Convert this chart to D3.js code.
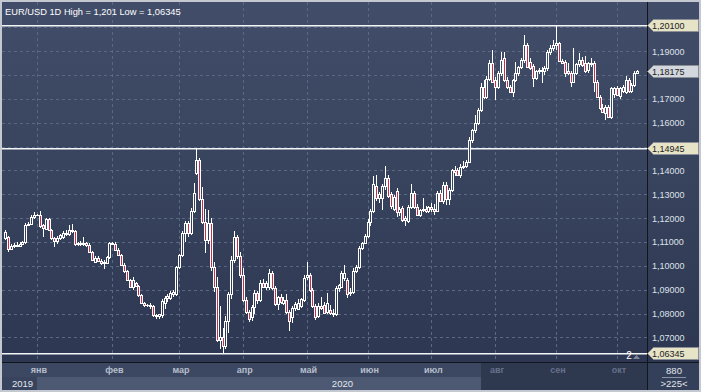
<!DOCTYPE html>
<html>
<head>
<meta charset="utf-8">
<script src="https://cdn.jsdelivr.net/npm/d3@7"></script>
<style>
html, body { margin: 0; padding: 0; background: #c4c8d0; }
svg { display: block; font-family: "Liberation Sans", Arial, sans-serif; }
</style>
</head>
<body>
<div id="chart"></div>
<script>
// EUR/USD daily candles (one value per bar)
var opens = [
  1.1118,1.1120,1.1072,1.1083,1.1088,1.1082,1.1092,1.1098,1.1172,1.1176,1.1205,1.1212,
  1.1214,1.1170,1.1156,1.1196,1.1150,1.1115,1.1106,1.1116,1.1120,1.1138,1.1132,1.1152,1.1146,1.1090,1.1096,1.1090,1.1096,1.1088,1.1058,1.1018,1.1034,1.1022,1.1012,1.1014,1.1035,
  1.1094,1.1092,1.1068,1.1045,1.1005,1.0978,1.0940,1.0910,1.0926,1.0916,1.0876,1.0846,1.0834,1.0836,1.0830,1.0792,1.0788,1.0792,1.0845,1.0866,1.0866,1.0884,1.0884,
  1.0994,1.1044,1.1136,1.1180,1.1136,1.1228,1.1390,1.1444,1.1280,1.1182,1.1108,1.1180,1.0996,1.0910,1.0690,1.0700,1.0665,1.0770,1.0880,1.1025,1.1122,1.1040,
  1.0960,1.0858,1.0808,1.0786,1.0828,1.0887,1.0857,1.0930,1.0912,1.0910,1.0972,1.0908,1.0840,1.0868,1.0846,1.0858,1.0808,1.0785,1.0822,1.0820,1.0830,1.0858,
  1.0955,1.0962,1.0900,1.0830,1.0790,1.0830,1.0836,1.0808,1.0816,1.0803,1.0800,1.0905,1.0912,1.0950,1.0940,1.0885,1.0890,1.0980,1.0995,1.1075,1.1095,
  1.1125,1.1185,1.1230,1.1335,1.1285,1.1285,1.1335,1.1367,1.1300,1.1240,1.1315,1.1225,1.1242,1.1193,1.1187,1.1248,1.1305,1.1248,1.1215,1.1235,1.1240,1.1228,
  1.1245,1.1240,1.1232,1.1305,1.1272,1.1340,1.1280,1.1318,1.1400,1.1402,1.1382,1.1415,1.1420,1.1437,1.1528,1.1570,1.1598,1.1654,1.1752,1.1710,1.1785,1.1850,
  1.1780,1.1752,1.1808,1.1870,1.1780,1.1752,1.1731,1.1780,1.1808,1.1835,1.1863,1.1926,1.1856,1.1836,1.1787,1.1815,1.1822,1.1818,1.1828,1.1898,1.1915,
  1.1925,1.1935,1.1858,1.1855,1.1815,1.1808,1.1772,1.1808,1.1845,1.1862,1.1850,1.1822,1.1845,1.1850,1.1773,1.1710,1.1661,1.1640,1.1668,1.1625,1.1720,
  1.1745,1.1712,1.1735,1.1730,1.1780,1.1732,1.1758,1.1810
];
var highs = [
  1.1150,1.1125,1.1090,1.1095,1.1098,1.1100,1.1104,1.1180,1.1185,1.1215,1.1225,1.1218,
  1.1228,1.1176,1.1202,1.1200,1.1155,1.1120,1.1125,1.1135,1.1145,1.1150,1.1173,1.1176,1.1150,1.1102,1.1105,1.1120,1.1100,1.1096,1.1062,1.1040,1.1040,1.1030,1.1026,1.1042,1.1098,
  1.1100,1.1100,1.1075,1.1050,1.1010,1.0982,1.0946,1.0955,1.0934,1.0920,1.0880,1.0850,1.0840,1.0845,1.0835,1.0800,1.0800,1.0860,1.0872,1.0880,1.0896,1.0900,1.0998,
  1.1048,1.1145,1.1190,1.1186,1.1242,1.1348,1.14945,1.1452,1.1330,1.1240,1.1236,1.1202,1.1017,1.0954,1.0830,1.0740,1.0790,1.0890,1.1040,1.1148,1.1130,1.1060,
  1.0990,1.0868,1.0815,1.0835,1.0900,1.0895,1.0940,1.0945,1.0935,1.0985,1.0978,1.0915,1.0875,1.0880,1.0870,1.0880,1.0815,1.0830,1.0850,1.0862,1.0866,1.0963,
  1.1015,1.0970,1.0905,1.0838,1.0845,1.0870,1.0850,1.0885,1.0835,1.0820,1.0915,1.0925,1.0980,1.1005,1.0950,1.0905,1.0990,1.1005,1.1082,1.1100,1.1135,
  1.1195,1.1240,1.1375,1.1382,1.1310,1.1345,1.1420,1.1380,1.1310,1.1295,1.1325,1.1245,1.1250,1.1210,1.1255,1.1345,1.1315,1.1260,1.1240,1.1285,1.1250,1.1250,
  1.1262,1.1258,1.1312,1.1318,1.1350,1.1350,1.1325,1.1405,1.1420,1.1410,1.1425,1.1440,1.1445,1.1540,1.1575,1.1633,1.1660,1.1765,1.1780,1.1795,1.1862,1.1905,
  1.1790,1.1815,1.1898,1.1898,1.1792,1.1760,1.1785,1.1856,1.1840,1.1870,1.1968,1.1935,1.1870,1.1845,1.1822,1.1830,1.1832,1.1840,1.1905,1.1925,1.1945,
  1.2010,1.1940,1.1868,1.1862,1.1850,1.1815,1.1912,1.1850,1.1892,1.1875,1.1878,1.1855,1.1872,1.1860,1.1780,1.1718,1.1680,1.1675,1.1675,1.1750,1.1752,
  1.1755,1.1752,1.1760,1.1795,1.1788,1.1765,1.1815,1.1822
];
var lows = [
  1.1108,1.1060,1.1068,1.1075,1.1078,1.1078,1.1086,1.1092,1.1165,1.1172,1.1198,1.1208,
  1.1160,1.1120,1.1150,1.1145,1.1110,1.1080,1.1092,1.1108,1.1112,1.1125,1.1126,1.1136,1.1085,1.1085,1.1085,1.1082,1.1080,1.1055,1.1020,1.1010,1.1016,1.1002,1.0988,1.1006,1.1028,
  1.1088,1.1062,1.1040,1.1000,1.0970,1.0935,1.0905,1.0900,1.0910,1.0870,1.0840,1.0826,1.0828,1.0820,1.0786,1.0778,1.0776,1.0780,1.0818,1.0850,1.0856,1.0870,1.0872,
  1.0985,1.1035,1.1098,1.1122,1.1128,1.1220,1.1380,1.1270,1.1175,1.1053,1.1090,1.0977,1.0891,1.0680,1.0650,1.06345,1.0650,1.0720,1.0860,1.1010,1.1030,1.0950,
  1.0850,1.0800,1.0766,1.0770,1.0800,1.0840,1.0848,1.0905,1.0900,1.0898,1.0900,1.0830,1.0815,1.0840,1.0835,1.0800,1.0727,1.0760,1.0810,1.0815,1.0825,1.0850,
  1.0940,1.0890,1.0825,1.0773,1.0780,1.0815,1.0800,1.0800,1.0795,1.0785,1.0790,1.0890,1.0905,1.0935,1.0865,1.0875,1.0880,1.0970,1.0985,1.1065,1.1090,
  1.1115,1.1165,1.1220,1.1270,1.1265,1.1235,1.1320,1.1285,1.1240,1.1230,1.1205,1.1210,1.1185,1.1165,1.1180,1.1240,1.1240,1.1210,1.1205,1.1225,1.1220,1.1220,
  1.1225,1.1215,1.1225,1.1268,1.1258,1.1255,1.1255,1.1310,1.1375,1.1375,1.1370,1.1405,1.1410,1.1430,1.1515,1.1555,1.1590,1.1645,1.1700,1.1700,1.1775,1.1765,
  1.1695,1.1740,1.1795,1.1770,1.1740,1.1725,1.1710,1.1770,1.1795,1.1825,1.1850,1.1830,1.1820,1.1752,1.1778,1.1805,1.1765,1.1800,1.1818,1.1885,1.1900,
  1.1905,1.1855,1.1845,1.1790,1.1800,1.1752,1.1765,1.1800,1.1835,1.1835,1.1810,1.1810,1.1835,1.1730,1.1705,1.1655,1.1640,1.1612,1.1620,1.1615,1.1705,
  1.1712,1.1700,1.1725,1.1720,1.1725,1.1725,1.1750,1.1805
];
var closes = [
  1.1144,1.1070,1.1083,1.1088,1.1082,1.1092,1.1098,1.1172,1.1176,1.1205,1.1212,1.1214,
  1.1166,1.1158,1.1196,1.1150,1.1115,1.1106,1.1116,1.1128,1.1138,1.1132,1.1152,1.1146,1.1090,1.1096,1.1090,1.1096,1.1088,1.1058,1.1026,1.1034,1.1022,1.1012,1.1016,1.1035,1.1094,
  1.1092,1.1068,1.1045,1.1005,1.0978,1.0940,1.0910,1.0940,1.0916,1.0876,1.0846,1.0834,1.0836,1.0830,1.0792,1.0788,1.0796,1.0852,1.0866,1.0872,1.0886,1.0890,1.0994,
  1.1044,1.1136,1.1180,1.1136,1.1228,1.1305,1.1444,1.1280,1.1182,1.1108,1.1180,1.0996,1.0910,1.0690,1.0700,1.0665,1.0770,1.0880,1.1025,1.1122,1.1040,1.0960,
  1.0858,1.0808,1.0778,1.0828,1.0887,1.0857,1.0930,1.0912,1.0928,1.0972,1.0908,1.0840,1.0868,1.0850,1.0856,1.0808,1.0770,1.0822,1.0840,1.0845,1.0860,1.0948,
  1.0962,1.0900,1.0830,1.0787,1.0830,1.0822,1.0802,1.0843,1.0803,1.0798,1.0905,1.0918,1.0968,1.0972,1.0884,1.0890,1.0980,1.0995,1.1075,1.1095,1.1125,
  1.1185,1.1230,1.1345,1.1285,1.1300,1.1335,1.1367,1.1291,1.1250,1.1290,1.1225,1.1240,1.1193,1.1200,1.1248,1.1305,1.1248,1.1215,1.1235,1.1240,1.1228,1.1245,
  1.1240,1.1232,1.1305,1.1272,1.1340,1.1280,1.1318,1.1400,1.1395,1.1382,1.1415,1.1420,1.1437,1.1528,1.1570,1.1598,1.1654,1.1752,1.1710,1.1785,1.1850,1.1773,
  1.1752,1.1808,1.1864,1.1780,1.1752,1.1731,1.1780,1.1808,1.1835,1.1863,1.1926,1.1835,1.1828,1.1787,1.1815,1.1822,1.1818,1.1828,1.1898,1.1915,1.1925,
  1.1935,1.1858,1.1850,1.1808,1.1808,1.1772,1.1808,1.1845,1.1862,1.1843,1.1815,1.1850,1.1850,1.1773,1.1710,1.1661,1.1647,1.1668,1.1625,1.1745,1.1745,
  1.1716,1.1745,1.1752,1.1780,1.1732,1.1758,1.1810,1.18175
];

// first bar of each month (bar index) and its label
var monthStart = [11, 37, 60, 82, 104, 125, 147, 169, 190, 211];
var monthNames = ["янв", "фев", "мар", "апр", "май", "июн", "июл", "авг", "сен", "окт"];
var yearNames = ["2019", "2020"];

var gridTicks = [1.07, 1.08, 1.09, 1.10, 1.11, 1.12, 1.13, 1.14, 1.15, 1.16, 1.17, 1.18, 1.19, 1.20];
var levelLines = [1.201, 1.14945, 1.06345];
var lastPrice = 1.18175;
var titleText = "EUR/USD 1D High = 1,201 Low = 1,06345";

var W = 701, H = 392;
var plot = {left: 2, right: 647, top: 2, bottom: 362};

function fmt(v) { return v.toFixed(5).replace(".", ","); }

var svg = d3.select("#chart").append("svg")
    .attr("width", W).attr("height", H);

var defs = svg.append("defs");
var grad = defs.append("linearGradient").attr("id", "bg")
    .attr("gradientUnits", "userSpaceOnUse")
    .attr("x1", 0).attr("y1", 0).attr("x2", 0).attr("y2", 362);
grad.append("stop").attr("offset", "0").attr("stop-color", "#424e69");
grad.append("stop").attr("offset", "1").attr("stop-color", "#2d3751");

svg.append("rect").attr("width", W).attr("height", H).attr("fill", "#c4c8d0");
svg.append("rect").attr("x", 2).attr("y", 2).attr("width", 697).attr("height", 388)
    .attr("fill", "url(#bg)");

var x = d3.scaleLinear().domain([0, 218]).range([5, 637.2]);
var y = d3.scaleLinear().domain([1.06345, 1.201]).range([353, 25]);

// markers sit on top of the right axis; labels they would cover are left out
var markers = levelLines.concat([lastPrice]);
var tickLabels = gridTicks.filter(function(t) {
  return markers.every(function(m) { return Math.abs(y(t) - y(m)) > 9; });
});

// grid
var grid = svg.append("g").attr("shape-rendering", "crispEdges");
grid.selectAll(".hg").data(gridTicks).enter().append("line")
    .attr("x1", plot.left).attr("x2", plot.right)
    .attr("y1", function(d) { return Math.round(y(d)) + 0.5; })
    .attr("y2", function(d) { return Math.round(y(d)) + 0.5; })
    .attr("stroke", "#5b6883").attr("stroke-dasharray", "3,3");
grid.selectAll(".vg").data(monthStart).enter().append("line")
    .attr("x1", function(d) { return Math.round(x(d)) + 0.5; })
    .attr("x2", function(d) { return Math.round(x(d)) + 0.5; })
    .attr("y1", plot.top).attr("y2", plot.bottom)
    .attr("stroke", "#5b6883").attr("stroke-dasharray", "3,3");

// level lines
svg.selectAll(".lvl").data(levelLines).enter().append("rect")
    .attr("x", plot.left).attr("width", plot.right - plot.left)
    .attr("y", function(d) { return Math.round(y(d)); })
    .attr("height", 1.5).attr("fill", "#f4f5f7");

// candles
var idx = d3.range(closes.length);
var cg = svg.append("g").attr("shape-rendering", "crispEdges");
var candle = cg.selectAll("g").data(idx).enter().append("g");
candle.append("rect")
    .attr("x", function(i) { return Math.round(x(i)); })
    .attr("width", 1)
    .attr("y", function(i) { return Math.round(y(highs[i])); })
    .attr("height", function(i) { return Math.max(1, Math.round(y(lows[i])) - Math.round(y(highs[i]))); })
    .attr("fill", "#ffffff");
candle.append("rect")
    .attr("x", function(i) { return Math.round(x(i)) - 1; })
    .attr("width", 3)
    .attr("y", function(i) { return Math.round(y(Math.max(opens[i], closes[i]))); })
    .attr("height", function(i) {
      return Math.max(1, Math.round(y(Math.min(opens[i], closes[i]))) - Math.round(y(Math.max(opens[i], closes[i]))) + 1);
    })
    .attr("fill", "#ffffff");
candle.append("rect")
    .attr("x", function(i) { return Math.round(x(i)); })
    .attr("width", 1)
    .attr("y", function(i) { return Math.round(y(Math.max(opens[i], closes[i]))) + 1; })
    .attr("height", function(i) {
      return Math.max(0, Math.round(y(Math.min(opens[i], closes[i]))) - Math.round(y(Math.max(opens[i], closes[i]))) - 1);
    })
    .attr("fill", function(i) { return closes[i] < opens[i] ? "#c4304c" : "url(#bg)"; });

// separators
svg.append("rect").attr("x", 647).attr("y", 2).attr("width", 1).attr("height", 388).attr("fill", "#11151c");
svg.append("rect").attr("x", 2).attr("y", 362).attr("width", 697).attr("height", 1).attr("fill", "#11151c");

// time axis bands
svg.append("rect").attr("x", 2).attr("y", 363).attr("width", 645).attr("height", 14).attr("fill", "#3c4862");
svg.append("rect").attr("x", 2).attr("y", 377).attr("width", 645).attr("height", 13).attr("fill", "#38445d");
svg.append("rect").attr("x", Math.round(x(monthStart[0]))).attr("y", 377)
    .attr("width", 481 - Math.round(x(monthStart[0]))).attr("height", 13).attr("fill", "#4d5973");
svg.append("rect").attr("x", 481).attr("y", 363).attr("width", 166).attr("height", 27).attr("fill", "#2e384f");
svg.append("rect").attr("x", 648).attr("y", 363).attr("width", 51).attr("height", 27).attr("fill", "#34405a");

svg.selectAll(".ml").data(monthStart).enter().append("text")
    .attr("x", function(d) { return x(d) + 2; })
    .attr("y", 373)
    .attr("text-anchor", "middle")
    .attr("font-size", 9).attr("font-weight", "bold")
    .attr("fill", function(d) { return x(d) > 481 ? "#67718a" : "#b6becc"; })
    .text(function(d, i) { return monthNames[i]; });

svg.append("text").attr("x", 12).attr("y", 387).attr("font-size", 9.5)
    .attr("fill", "#e2e6ec").text(yearNames[0]);
svg.append("text").attr("x", 353).attr("y", 387).attr("font-size", 9.5)
    .attr("text-anchor", "end").attr("fill", "#e2e6ec").text(yearNames[1]);

// right price axis
svg.selectAll(".pt").data(tickLabels).enter().append("text")
    .attr("x", 652).attr("y", function(d) { return y(d) + 3.5; })
    .attr("font-size", 9).attr("fill", "#dde2ea")
    .text(fmt);

// value markers
var mg = svg.selectAll(".mk").data(markers).enter().append("g")
    .attr("transform", function(d) { return "translate(0," + Math.round(y(d)) + ")"; });
mg.append("path")
    .attr("d", "M647.5,0.5 L653.5,-5.5 L698.5,-5.5 L698.5,6.5 L653.5,6.5 Z")
    .attr("fill", function(d) { return d === lastPrice ? "#d3d7de" : "#e7e3c6"; })
    .attr("stroke", "#8c8f96").attr("stroke-width", 1);
mg.append("text").attr("x", 652).attr("y", 4)
    .attr("font-size", 9).attr("fill", "#1b1d22")
    .text(fmt);

// title
svg.append("text").attr("x", 5).attr("y", 15).attr("font-size", 9.3)
    .attr("fill", "#ffffff").text(titleText);

// bar counter near bottom-right
svg.append("text").attr("x", 629).attr("y", 359).attr("font-size", 10)
    .attr("text-anchor", "middle").attr("fill", "#ffffff").text("2");
svg.append("path").attr("d", "M633,359 L640,359 L636.5,355 Z").attr("fill", "#7e889c");

svg.append("text").attr("x", 674).attr("y", 374).attr("font-size", 9.5)
    .attr("text-anchor", "middle").attr("fill", "#e2e6ec").text("880");
svg.append("rect").attr("x", 662).attr("y", 377).attr("width", 24).attr("height", 1).attr("fill", "#8a93a6");
svg.append("text").attr("x", 674).attr("y", 387).attr("font-size", 9.5)
    .attr("text-anchor", "middle").attr("fill", "#e2e6ec").text(">225<");
</script>
</body>
</html>
